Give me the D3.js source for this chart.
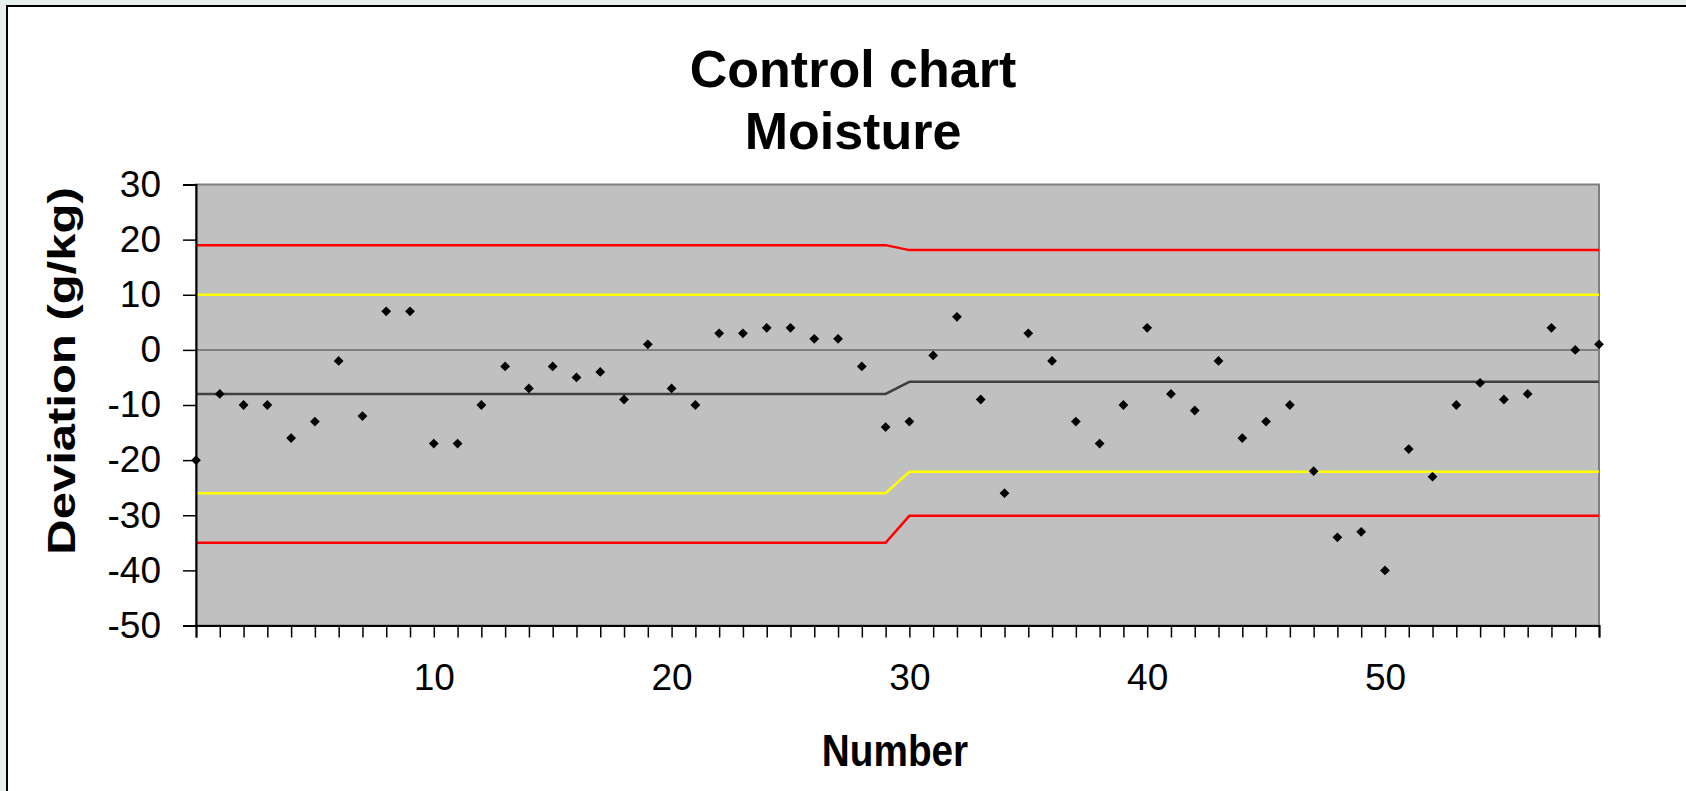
<!DOCTYPE html>
<html>
<head>
<meta charset="utf-8">
<script src="https://cdn.jsdelivr.net/npm/d3@7/dist/d3.min.js"></script>
<style>
  html, body { margin: 0; padding: 0; background: #E8F0EC; }
  svg { display: block; }
  text { font-family: "Liberation Sans", Arial, sans-serif; fill: #000; }
</style>
</head>
<body>
<script>
// ---- data ----
const numbers = d3.range(0, 60);
const deviation = [-20,-8,-10,-10,-16,-13,-2,-12,7,7,
                   -17,-17,-10,-3,-7,-3,-5,-4,-9,1,
                   -7,-10,3,3,4,4,2,2,-3,-14,
                   -13,-1,6,-9,-26,3,-2,-13,-17,-10,
                   4,-8,-11,-2,-16,-13,-10,-22,-34,-33,
                   -40,-18,-23,-10,-6,-9,-8,4,0,1];
const upperControl = [19,19,19,19,19,19,19,19,19,19,19,19,19,19,19,19,19,19,19,19,19,19,19,19,19,19,19,19,19,19,
                      18.1,18.1,18.1,18.1,18.1,18.1,18.1,18.1,18.1,18.1,18.1,18.1,18.1,18.1,18.1,18.1,18.1,18.1,18.1,18.1,18.1,18.1,18.1,18.1,18.1,18.1,18.1,18.1,18.1,18.1];
const upperWarning = [10,10,10,10,10,10,10,10,10,10,10,10,10,10,10,10,10,10,10,10,10,10,10,10,10,10,10,10,10,10,
                      10,10,10,10,10,10,10,10,10,10,10,10,10,10,10,10,10,10,10,10,10,10,10,10,10,10,10,10,10,10];
const centerLine = [-8,-8,-8,-8,-8,-8,-8,-8,-8,-8,-8,-8,-8,-8,-8,-8,-8,-8,-8,-8,-8,-8,-8,-8,-8,-8,-8,-8,-8,-8,
                    -5.8,-5.8,-5.8,-5.8,-5.8,-5.8,-5.8,-5.8,-5.8,-5.8,-5.8,-5.8,-5.8,-5.8,-5.8,-5.8,-5.8,-5.8,-5.8,-5.8,-5.8,-5.8,-5.8,-5.8,-5.8,-5.8,-5.8,-5.8,-5.8,-5.8];
const lowerWarning = [-26,-26,-26,-26,-26,-26,-26,-26,-26,-26,-26,-26,-26,-26,-26,-26,-26,-26,-26,-26,-26,-26,-26,-26,-26,-26,-26,-26,-26,-26,
                      -22.1,-22.1,-22.1,-22.1,-22.1,-22.1,-22.1,-22.1,-22.1,-22.1,-22.1,-22.1,-22.1,-22.1,-22.1,-22.1,-22.1,-22.1,-22.1,-22.1,-22.1,-22.1,-22.1,-22.1,-22.1,-22.1,-22.1,-22.1,-22.1,-22.1];
const lowerControl = [-35,-35,-35,-35,-35,-35,-35,-35,-35,-35,-35,-35,-35,-35,-35,-35,-35,-35,-35,-35,-35,-35,-35,-35,-35,-35,-35,-35,-35,-35,
                      -30.1,-30.1,-30.1,-30.1,-30.1,-30.1,-30.1,-30.1,-30.1,-30.1,-30.1,-30.1,-30.1,-30.1,-30.1,-30.1,-30.1,-30.1,-30.1,-30.1,-30.1,-30.1,-30.1,-30.1,-30.1,-30.1,-30.1,-30.1,-30.1,-30.1];
const yTicks = [-50,-40,-30,-20,-10,0,10,20,30];
const xLabels = [10,20,30,40,50];
const titleLines = ["Control chart", "Moisture"];
const yTitle = "Deviation (g/kg)";
const xTitle = "Number";

// ---- layout ----
const W = 1686, H = 791;
const plot = { left: 196, right: 1599, top: 184.5, bottom: 625.5 };

const svg = d3.select("body").append("svg").attr("width", W).attr("height", H);

// chart area
svg.append("rect").attr("x", 7).attr("y", 6).attr("width", W + 10).attr("height", H + 10)
  .attr("fill", "#fff").attr("stroke", "#000").attr("stroke-width", 2);

const x = d3.scaleLinear().domain([0, 59]).range([plot.left, plot.right]);
const y = d3.scaleLinear().domain([-50, 30]).range([plot.bottom, plot.top]);

// plot background
svg.append("rect").attr("x", plot.left).attr("y", plot.top)
  .attr("width", plot.right - plot.left).attr("height", plot.bottom - plot.top)
  .attr("fill", "#C0C0C0").attr("stroke", "#808080").attr("stroke-width", 2);

// zero line
svg.append("line").attr("x1", plot.left).attr("x2", plot.right)
  .attr("y1", y(0)).attr("y2", y(0)).attr("stroke", "#808080").attr("stroke-width", 2);

// series lines
const line = d3.line().x((d, i) => x(numbers[i])).y(d => y(d));
const series = [
  { data: upperControl, color: "#FF0000" },
  { data: upperWarning, color: "#FFFF00" },
  { data: centerLine, color: "#404040" },
  { data: lowerWarning, color: "#FFFF00" },
  { data: lowerControl, color: "#FF0000" }
];
svg.append("g").selectAll("path").data(series).join("path")
  .attr("d", s => line(s.data)).attr("fill", "none")
  .attr("stroke", s => s.color).attr("stroke-width", 2.5);

// axes
const yAxis = d3.axisLeft(y).tickValues(yTicks).tickSize(13).tickPadding(22).tickFormat(d => String(d));
const gy = svg.append("g").attr("transform", `translate(${plot.left},0)`).call(yAxis);
gy.select(".domain").attr("stroke", "#000").attr("stroke-width", 2);
gy.selectAll(".tick line").attr("stroke", "#000").attr("stroke-width", 1.5);
gy.selectAll("text").style("font-size", "37px").attr("fill", "#000");

const xAxis = d3.axisBottom(x).tickValues(numbers).tickSize(12).tickPadding(26)
  .tickFormat(d => xLabels.includes(d) ? String(d) : "");
const gx = svg.append("g").attr("transform", `translate(0,${plot.bottom})`).call(xAxis);
gx.select(".domain").attr("stroke", "#000").attr("stroke-width", 2);
gx.selectAll(".tick line").attr("stroke", "#000").attr("stroke-width", 1.5);
gx.selectAll("text").style("font-size", "37px").attr("fill", "#000");

// points (diamonds)
svg.append("g").selectAll("path").data(deviation).join("path")
  .attr("d", d3.symbol(d3.symbolSquare, 48))
  .attr("transform", (d, i) => `translate(${x(numbers[i])},${y(d)}) rotate(45)`)
  .attr("fill", "#000");

// titles
svg.append("g").selectAll("text").data(titleLines).join("text")
  .attr("x", 853).attr("y", (d, i) => 87 + i * 62)
  .attr("text-anchor", "middle").style("font-size", "52px").style("font-weight", "bold")
  .text(d => d);

svg.append("text").attr("transform", "translate(75,371) scale(0.8,1) rotate(-90)")
  .attr("text-anchor", "middle").style("font-size", "49px").style("font-weight", "bold")
  .text(yTitle);

svg.append("text").attr("transform", "translate(895,766) scale(0.88,1)")
  .attr("text-anchor", "middle").style("font-size", "44px").style("font-weight", "bold")
  .text(xTitle);
</script>
</body>
</html>
